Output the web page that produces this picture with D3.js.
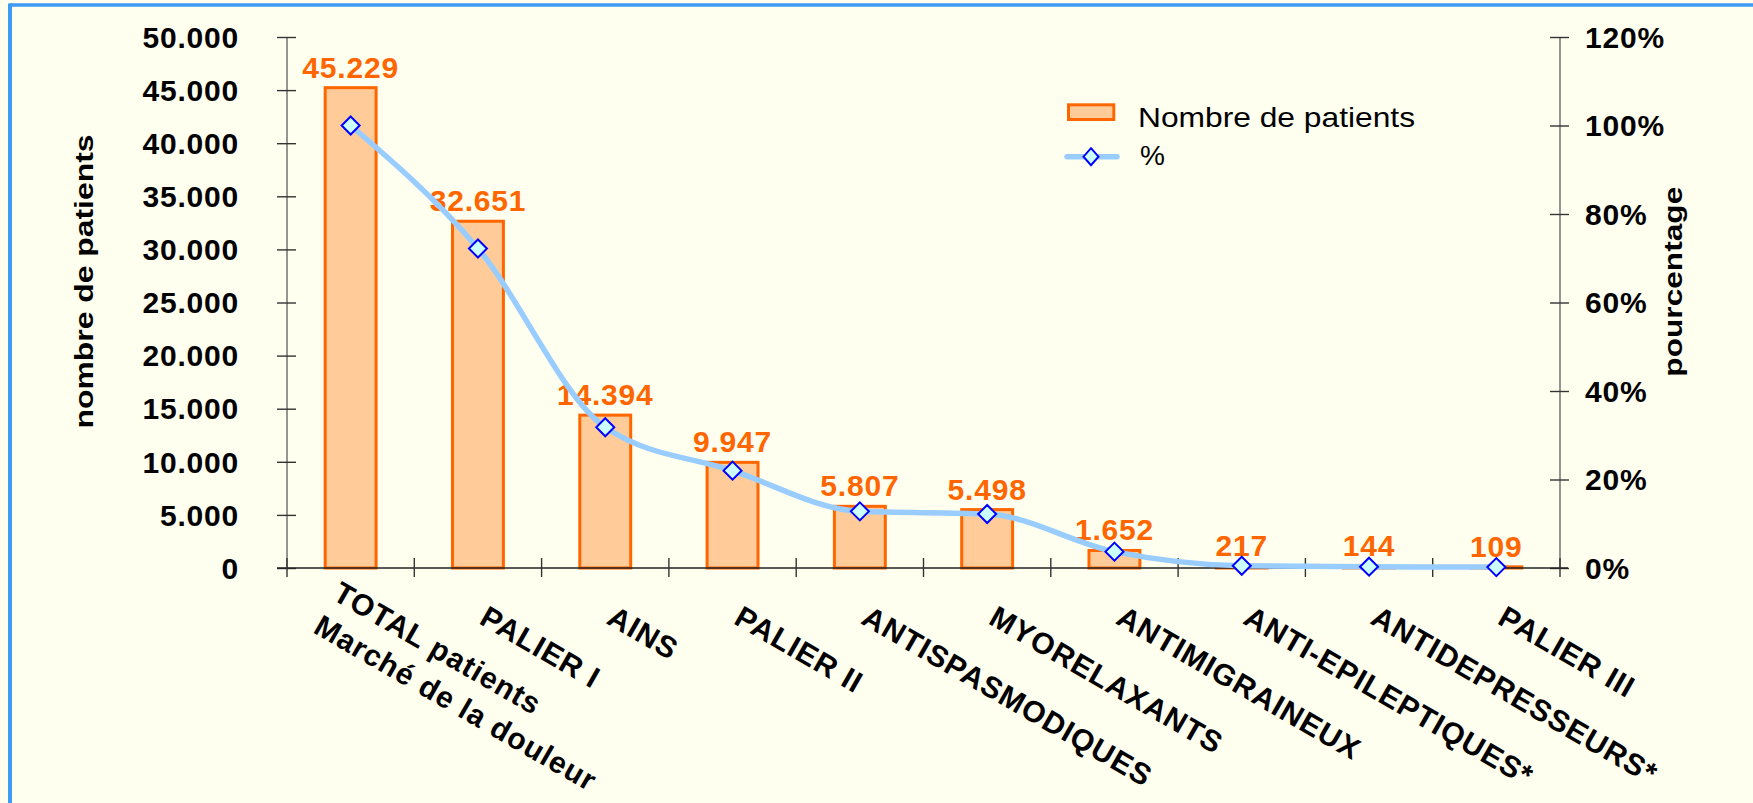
<!DOCTYPE html>
<html>
<head>
<meta charset="utf-8">
<script src="https://cdn.jsdelivr.net/npm/d3@7"></script>
<style>
  html, body { margin: 0; padding: 0; background: #ffffff; }
  svg { display: block; }
  text { font-family: "Liberation Sans", Arial, Helvetica, sans-serif; }
</style>
</head>
<body>
<svg id="chart" width="1753" height="803"></svg>
<script>
// ---- data ----
const categories = [
  "TOTAL patients\nMarché de la douleur",
  "PALIER I",
  "AINS",
  "PALIER II",
  "ANTISPASMODIQUES",
  "MYORELAXANTS",
  "ANTIMIGRAINEUX",
  "ANTI-EPILEPTIQUES*",
  "ANTIDEPRESSEURS*",
  "PALIER III"
];
const patients = [45229, 32651, 14394, 9947, 5807, 5498, 1652, 217, 144, 109];
const percent = [100, 72.2, 31.8, 22.0, 12.8, 12.2, 3.7, 0.5, 0.3, 0.2];
const leftTicks = [0, 5000, 10000, 15000, 20000, 25000, 30000, 35000, 40000, 45000, 50000];
const rightTicks = [0, 20, 40, 60, 80, 100, 120];
const seriesNames = ["Nombre de patients", "%"];
const axisTitles = ["nombre de patients", "pourcentage"];

// ---- setup ----
const W = 1753, H = 803;
const svg = d3.select("#chart");
const loc = d3.formatLocale({decimal: ",", thousands: ".", grouping: [3], currency: ["", "€"]});
const fmt = loc.format(",d");

const BAR_FILL = "#FFCC99", BAR_STROKE = "#FF6600";
const LINE_COLOR = "#99CCFF", MARK_FILL = "#CCFFFF", MARK_STROKE = "#0000FF";
const FONT = '"Liberation Sans", Arial, sans-serif';

svg.append("rect").attr("width", W).attr("height", H).attr("fill", "#FFFFF0");
// border (top and left)
svg.append("line").attr("x1", 10).attr("x2", W).attr("y1", 5).attr("y2", 5)
  .attr("stroke", "#3D9BF5").attr("stroke-width", 3.5);
svg.append("line").attr("x1", 10).attr("x2", 10).attr("y1", 3.5).attr("y2", H)
  .attr("stroke", "#3D9BF5").attr("stroke-width", 4);

const x = d3.scaleBand().domain(categories).range([287, 1560]).padding(0);
const y = d3.scaleLinear().domain([0, 50000]).range([568, 37]);
const yR = d3.scaleLinear().domain([0, 120]).range([568, 37]);

const cx = d => x(d) + x.bandwidth() / 2;
const barW = x.bandwidth() * 0.4;

// ---- bars ----
svg.append("g").selectAll("rect").data(categories).join("rect")
  .attr("x", d => cx(d) - barW / 2)
  .attr("y", (d, i) => y(patients[i]))
  .attr("width", barW)
  .attr("height", (d, i) => y(0) - y(patients[i]))
  .attr("fill", BAR_FILL)
  .attr("stroke", BAR_STROKE)
  .attr("stroke-width", 3);

// ---- left axis ----
const gL = svg.append("g").attr("transform", `translate(${x.range()[0]},0)`);
gL.call(d3.axisLeft(y).tickValues(leftTicks).tickSize(10).tickPadding(38).tickFormat(fmt));
gL.append("g").call(d3.axisRight(y).tickValues(leftTicks).tickSize(9).tickFormat(""))
  .call(g => g.select(".domain").remove());
gL.selectAll(".domain").attr("stroke", "#7a7a7a").attr("stroke-width", 1.6)
  .attr("d", `M0,${y(0)}V${y(50000)}`);
gL.selectAll(".tick line").attr("stroke", "#333").attr("stroke-width", 1.4);
gL.selectAll(".tick text")
  .attr("font-size", 30).attr("font-weight", "bold").attr("fill", "#000")
  .attr("letter-spacing", 0.8).attr("dy", "0.34em")
  .style("font-family", FONT);

// ---- right axis ----
const gR = svg.append("g").attr("transform", `translate(${x.range()[1]},0)`);
gR.call(d3.axisRight(yR).tickValues(rightTicks).tickSize(9).tickPadding(16).tickFormat(d => d + "%"));
gR.append("g").call(d3.axisLeft(yR).tickValues(rightTicks).tickSize(10).tickFormat(""))
  .call(g => g.select(".domain").remove());
gR.selectAll(".domain").attr("stroke", "#7a7a7a").attr("stroke-width", 1.6)
  .attr("d", `M0,${yR(0)}V${yR(120)}`);
gR.selectAll(".tick line").attr("stroke", "#333").attr("stroke-width", 1.4);
gR.selectAll(".tick text")
  .attr("font-size", 30).attr("font-weight", "bold").attr("fill", "#000")
  .attr("letter-spacing", 0.8).attr("dy", "0.34em")
  .style("font-family", FONT);

// ---- x axis baseline and boundary ticks ----
const gX = svg.append("g");
gX.append("line")
  .attr("x1", x.range()[0] - 10).attr("x2", x.range()[1] + 8)
  .attr("y1", y(0)).attr("y2", y(0))
  .attr("stroke", "#222").attr("stroke-width", 1.5);
const bounds = categories.map(c => x(c)).concat([x.range()[1]]);
gX.selectAll("line.bt").data(bounds).join("line").attr("class", "bt")
  .attr("x1", d => d).attr("x2", d => d)
  .attr("y1", y(0) - 10).attr("y2", y(0) + 9)
  .attr("stroke", "#333").attr("stroke-width", 1.4);

// ---- category labels ----
const labs = svg.append("g").selectAll("text").data(categories).join("text")
  .attr("transform", d => `translate(${cx(d)},${y(0) + 55}) rotate(30)`)
  .attr("font-size", 30).attr("font-weight", "bold").attr("fill", "#000")
  .attr("letter-spacing", 1);
labs.each(function(d) {
  const lines = d.split("\n");
  const n = lines.length;
  const t = d3.select(this);
  lines.forEach((ln, k) => {
    t.append("tspan")
      .attr("x", -29 * (n - 1))
      .attr("y", -11.4 * (n - 1) + k * 38.6)
      .text(ln);
  });
});

// ---- data labels ----
svg.append("g").selectAll("text").data(categories).join("text")
  .attr("x", d => cx(d))
  .attr("y", (d, i) => y(patients[i]) - 10)
  .attr("text-anchor", "middle")
  .attr("font-size", 30).attr("font-weight", "bold")
  .attr("letter-spacing", 0.8)
  .attr("fill", BAR_STROKE)
  .text((d, i) => fmt(patients[i]));

// ---- line ----
const line = d3.line()
  .x(d => cx(d))
  .y((d, i) => yR(percent[i]))
  .curve(d3.curveMonotoneX);
svg.append("path").datum(categories)
  .attr("d", line)
  .attr("fill", "none")
  .attr("stroke", LINE_COLOR)
  .attr("stroke-width", 5.5)
  .attr("stroke-linejoin", "round");

const diamond = (s) => `M0,${-s}L${s},0L0,${s}L${-s},0Z`;
svg.append("g").selectAll("path").data(categories).join("path")
  .attr("transform", (d, i) => `translate(${cx(d)},${yR(percent[i])})`)
  .attr("d", diamond(9))
  .attr("fill", MARK_FILL)
  .attr("stroke", MARK_STROKE)
  .attr("stroke-width", 2);

// ---- axis titles ----
svg.append("text")
  .attr("transform", `translate(93,281.5) rotate(-90)`)
  .attr("text-anchor", "middle")
  .attr("font-size", 26).attr("font-weight", "bold").attr("fill", "#000")
  .attr("textLength", 294).attr("lengthAdjust", "spacingAndGlyphs")
  .text(axisTitles[0]);
svg.append("text")
  .attr("transform", `translate(1682,281.7) rotate(-90)`)
  .attr("text-anchor", "middle")
  .attr("font-size", 26).attr("font-weight", "bold").attr("fill", "#000")
  .attr("textLength", 190).attr("lengthAdjust", "spacingAndGlyphs")
  .text(axisTitles[1]);

// ---- legend ----
const lg = svg.append("g").attr("transform", "translate(1067,0)");
lg.append("rect").attr("x", 1.5).attr("y", 104.8).attr("width", 45.3).attr("height", 14.7)
  .attr("fill", BAR_FILL).attr("stroke", BAR_STROKE).attr("stroke-width", 3);
lg.append("text").attr("x", 71).attr("y", 126.7)
  .attr("font-size", 28).attr("fill", "#000")
  .attr("textLength", 277).attr("lengthAdjust", "spacingAndGlyphs")
  .text(seriesNames[0]);
lg.append("line").attr("x1", 0).attr("x2", 50).attr("y1", 156.7).attr("y2", 156.7)
  .attr("stroke", LINE_COLOR).attr("stroke-width", 5.5).attr("stroke-linecap", "round");
lg.append("path").attr("transform", "translate(24,156.7)")
  .attr("d", "M0,-8.5L7.5,0L0,8.5L-7.5,0Z")
  .attr("fill", MARK_FILL).attr("stroke", MARK_STROKE).attr("stroke-width", 2);
lg.append("text").attr("x", 73).attr("y", 165)
  .attr("font-size", 28).attr("fill", "#000")
  .text(seriesNames[1]);
</script>
</body>
</html>
